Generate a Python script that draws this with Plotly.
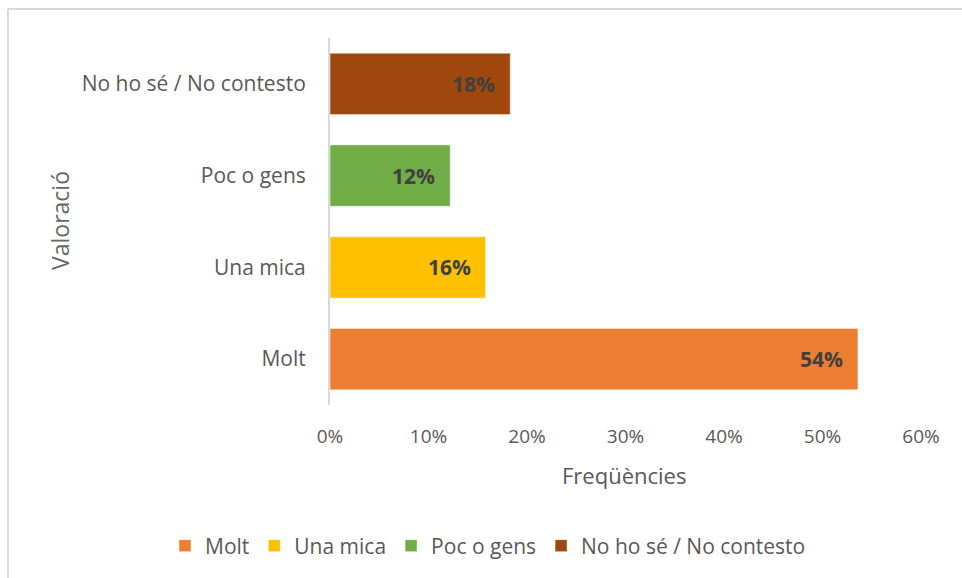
import plotly.graph_objects as go

categories = ["Molt", "Una mica", "Poc o gens", "No ho sé / No contesto"]
values = [0.536, 0.158, 0.122, 0.183]
labels = ["54%", "16%", "12%", "18%"]
colors = ["#ED7D31", "#FFC000", "#70AD47", "#9E480E"]
x_ticks = [0, 0.1, 0.2, 0.3, 0.4, 0.5, 0.6]
x_ticklabels = ["0%", "10%", "20%", "30%", "40%", "50%", "60%"]

FONT = "Open Sans"
fig = go.Figure()
for c, v, col in zip(categories, values, colors):
    fig.add_trace(go.Bar(
        y=[c], x=[v], name=c, orientation="h",
        marker=dict(color=col, line=dict(color="rgba(255,255,255,0.5)", width=1)),
        hoverinfo="skip",
    ))

annotations = []
for c, v, t in zip(categories, values, labels):
    annotations.append(dict(
        x=v, y=c, xref="x", yref="y", text="<b>%s</b>" % t, showarrow=False,
        xanchor="right", yanchor="middle", xshift=-13,
        font=dict(family=FONT, size=21, color="#404040"),
    ))

W, H = 962, 578
L, R, T, B = 330, 41, 38, 173
pw, ph = W - L - R, H - T - B

def px_x(x):
    return (x - L) / pw

def px_y(y):
    return (H - B - y) / ph

annotations.append(dict(
    x=px_x(624), y=px_y(475), xref="paper", yref="paper", text="Freqüències",
    showarrow=False, xanchor="center", yanchor="middle",
    font=dict(family=FONT, size=22, color="#595959"),
))
annotations.append(dict(
    x=px_x(60), y=px_y(221), xref="paper", yref="paper", text="Valoració",
    showarrow=False, xanchor="center", yanchor="middle", textangle=-90,
    font=dict(family=FONT, size=23, color="#666666"),
))

fig.update_layout(
    width=W, height=H,
    margin=dict(l=L, r=R, t=T, b=B, autoexpand=False),
    paper_bgcolor="white", plot_bgcolor="white",
    barmode="relative", bargap=0.33,
    showlegend=True,
    legend=dict(
        orientation="h",
        x=px_x(165), y=px_y(546), xanchor="left", yanchor="middle",
        font=dict(family=FONT, size=21, color="#595959"),
        traceorder="normal", itemwidth=30,
    ),
    xaxis=dict(
        range=[0, 0.6], tickvals=x_ticks, ticktext=x_ticklabels,
        showgrid=False, zeroline=False, showline=False,
        tickfont=dict(family=FONT, size=19, color="#595959"),
        ticklabelstandoff=18, fixedrange=True,
    ),
    yaxis=dict(
        categoryorder="array", categoryarray=categories,
        showgrid=False, zeroline=False, showline=True, linecolor="#D9D9D9", linewidth=2,
        tickfont=dict(family=FONT, size=21, color="#595959"),
        ticklabelstandoff=18, fixedrange=True,
    ),
    annotations=annotations,
    shapes=[
        dict(type="line", xref="paper", yref="paper", x0=px_x(8), x1=px_x(970),
             y0=px_y(9), y1=px_y(9), line=dict(color="#D9D9D9", width=2)),
        dict(type="line", xref="paper", yref="paper", x0=px_x(8), x1=px_x(8),
             y0=px_y(9), y1=px_y(590), line=dict(color="#D9D9D9", width=2)),
    ],
)

fig.write_html(
    "out.html",
    config={"displayModeBar": False},
    post_script="document.body.style.margin='0';document.body.style.overflow='hidden';",
)
